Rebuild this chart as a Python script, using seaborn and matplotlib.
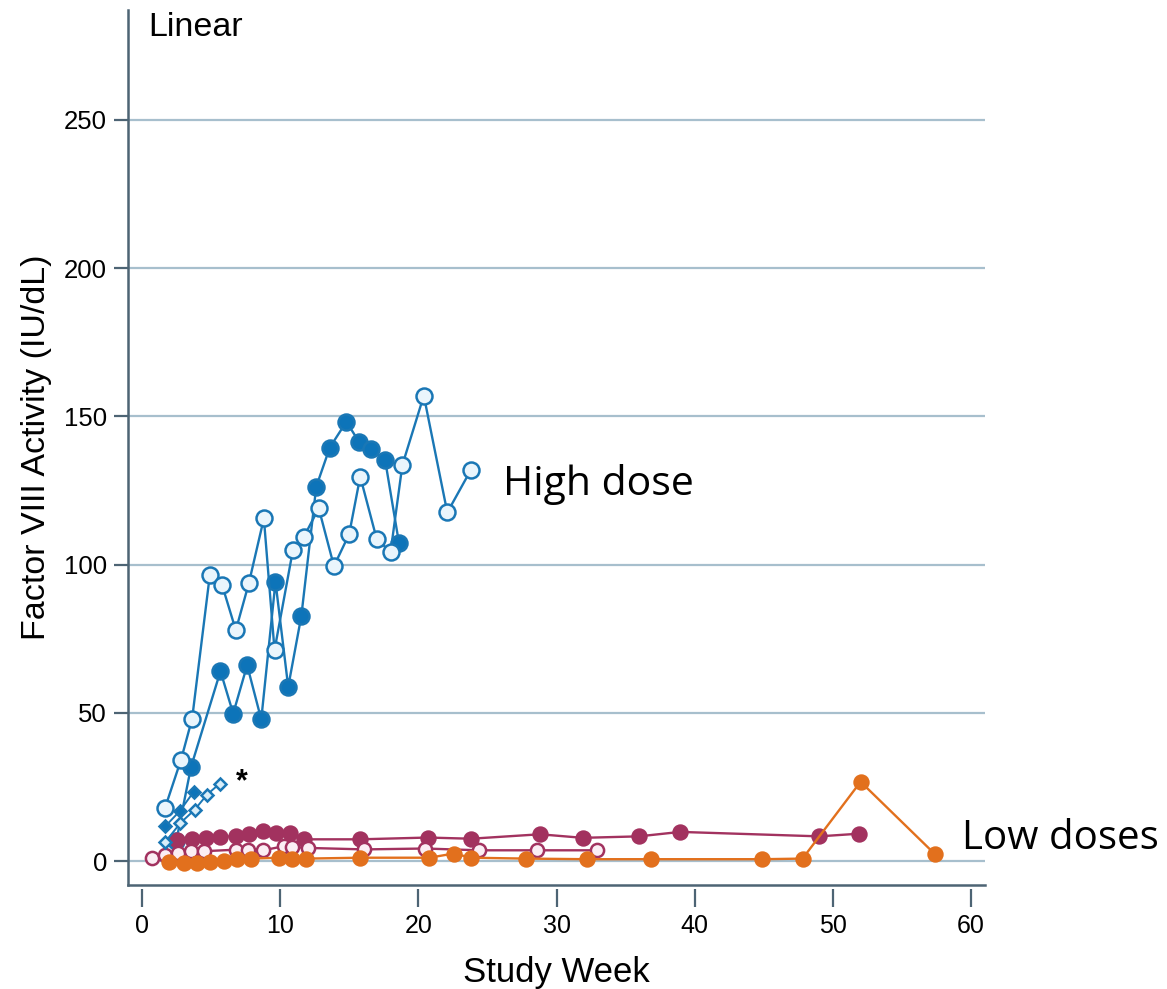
import matplotlib
matplotlib.use("Agg")
import matplotlib.pyplot as plt
import seaborn as sns
import numpy as np

# ---------------- data ----------------
# High dose, filled circles
hd_filled_week = [2.5, 3.56, 5.69, 6.61, 7.62, 8.64, 9.67, 10.59, 11.54, 12.62, 13.6, 14.8, 15.7, 16.56, 17.6, 18.6]
hd_filled_val = [7.0, 31.8, 64.1, 49.8, 66.1, 47.8, 94.2, 58.8, 82.7, 126.3, 139.5, 148.2, 141.5, 138.9, 135.3, 107.4]
# High dose, open circles
hd_open_week = [1.68, 2.84, 3.64, 4.92, 5.81, 6.80, 7.74, 8.83, 9.60, 10.93, 11.7, 12.8, 13.9, 15.0, 15.8, 17.0, 18.0, 18.85, 20.4, 22.1, 23.8]
hd_open_val = [18.0, 34.3, 48.1, 96.5, 93.1, 77.9, 93.7, 115.6, 71.2, 104.9, 109.2, 119.0, 99.5, 110.3, 129.7, 108.5, 104.4, 133.6, 157.0, 117.6, 131.9]
# High dose, diamonds (short follow-up, *)
hd_dfill_week = [1.7, 2.74, 3.75]
hd_dfill_val = [11.8, 16.9, 23.4]
hd_dopen_week = [1.7, 2.79, 3.83, 4.72, 5.64]
hd_dopen_val = [6.5, 12.9, 17.4, 22.5, 26.2]

# Low doses, purple filled
ld_pf_week = [2.55, 3.64, 4.67, 5.69, 6.78, 7.74, 8.78, 9.72, 10.7, 11.7, 15.8, 20.7, 23.8, 28.8, 31.9, 35.96, 38.95, 49.0, 51.9]
ld_pf_val = [7.3, 7.6, 8.0, 8.2, 8.5, 9.3, 10.2, 9.7, 9.7, 7.4, 7.4, 8.0, 7.6, 9.1, 7.9, 8.4, 9.9, 8.4, 9.3]
# Low doses, purple open
ld_po_week = [0.74, 1.7, 2.62, 3.56, 4.53, 6.78, 7.67, 8.78, 10.3, 10.9, 12.0, 16.1, 20.5, 24.4, 28.6, 32.9]
ld_po_val = [1.2, 2.0, 2.8, 3.4, 3.4, 3.9, 3.7, 3.7, 5.1, 4.8, 4.5, 4.0, 4.3, 3.7, 3.7, 3.7]
# Low doses, orange filled
ld_or_week = [1.94, 3.03, 4.0, 4.96, 5.93, 6.85, 7.9, 9.96, 10.9, 11.85, 15.8, 20.8, 22.55, 23.85, 27.8, 32.2, 36.85, 44.9, 47.8, 52.0, 57.4]
ld_or_val = [-0.2, -0.6, -0.6, -0.2, 0.1, 0.6, 0.9, 1.2, 0.9, 0.9, 1.2, 1.2, 2.6, 1.2, 0.9, 0.7, 0.7, 0.7, 0.9, 26.8, 2.3]

x_ticks = [0, 10, 20, 30, 40, 50, 60]
y_ticks = [0, 50, 100, 150, 200, 250]

# ---------------- style ----------------
sns.set_theme(style="white")
plt.rcParams["font.family"] = ["Liberation Sans", "DejaVu Sans"]

BLUE = "#0d74b9"
BLUE_LINE = "#1a77b5"
OPEN_FACE = "#eaf5fc"
PURPLE = "#a2325f"
ORANGE = "#e2701d"
GRID = "#a7bfcd"
SPINE = "#4d6474"

fig = plt.figure(figsize=(11.67, 9.89), dpi=100)
ax = fig.add_axes([128 / 1167, 1 - 885 / 989, (985 - 128) / 1167, (885 - 10) / 989])

# horizontal grid lines
for yv in y_ticks:
    ax.axhline(yv, color=GRID, lw=1.6, zorder=0.5)

def series(x, y, color, face, ms, marker="o", mec=None, z=2, lw=1.7):
    sns.lineplot(x=x, y=y, ax=ax, sort=False, estimator=None, color=color,
                 lw=lw, marker=marker, markersize=ms, markerfacecolor=face,
                 markeredgecolor=mec if mec else color, markeredgewidth=1.8,
                 zorder=z, legend=False)

# high dose filled (beneath the low-dose markers near its first point)
series(hd_filled_week, hd_filled_val, BLUE_LINE, BLUE, 11.5, z=2.5)
# low doses
series(ld_pf_week, ld_pf_val, PURPLE, PURPLE, 10, z=3)
series(ld_po_week, ld_po_val, PURPLE, "#fbeef4", 9.5, z=4)
series(ld_or_week, ld_or_val, ORANGE, ORANGE, 10, z=5)
# high dose
series(hd_open_week, hd_open_val, BLUE_LINE, OPEN_FACE, 11.5, z=7)
series(hd_dfill_week, hd_dfill_val, BLUE_LINE, BLUE, 6.5, marker="D", z=8, lw=1.4)
series(hd_dopen_week, hd_dopen_val, BLUE_LINE, "#d9eef9", 6.5, marker="D", z=8, lw=1.4)

ax.set_xlim(-1, 61)
ax.set_ylim(-8, 287)

ax.set_yticks(y_ticks)
ax.set_yticklabels([str(v) for v in y_ticks], fontsize=18.5, color="black")
ax.tick_params(axis="y", direction="out", length=10, width=1.6, color=SPINE, pad=5, left=True)

# x ticks drawn via a secondary axis slightly below the spine
ax.set_xticks(x_ticks)
ax.tick_params(axis="x", bottom=False, labelbottom=False)
sec = ax.secondary_xaxis(-0.005)
sec.set_xticks(x_ticks)
sec.set_xticklabels([str(v) for v in x_ticks], fontsize=18, color="black")
sec.tick_params(axis="x", direction="out", length=13, width=1.6, color=SPINE, pad=5, bottom=True)
sec.spines["bottom"].set_visible(False)

for side in ["top", "right"]:
    ax.spines[side].set_visible(False)
for side in ["left", "bottom"]:
    ax.spines[side].set_color(SPINE)
    ax.spines[side].set_linewidth(1.8)

ax.set_ylabel("Factor VIII Activity (IU/dL)", fontsize=24.5, color="black", labelpad=9)
sec.set_xlabel("Study Week", fontsize=25, color="black", labelpad=13)

ax.text(0.45, 281, "Linear", fontsize=24.5, color="black", va="center", ha="left")
ax.text(6.8, 26.5, "*", fontsize=22, fontweight="bold", color="black", va="center", ha="left")
ax.text(26.1, 127, "High dose", fontsize=29.5, family=["Open Sans", "DejaVu Sans"],
        color="black", va="center", ha="left")
ax.text(59.35, 7.5, "Low doses", fontsize=29, family=["Open Sans", "DejaVu Sans"],
        color="black", va="center", ha="left", clip_on=False)

fig.savefig("out.png", dpi=100, facecolor="white")
